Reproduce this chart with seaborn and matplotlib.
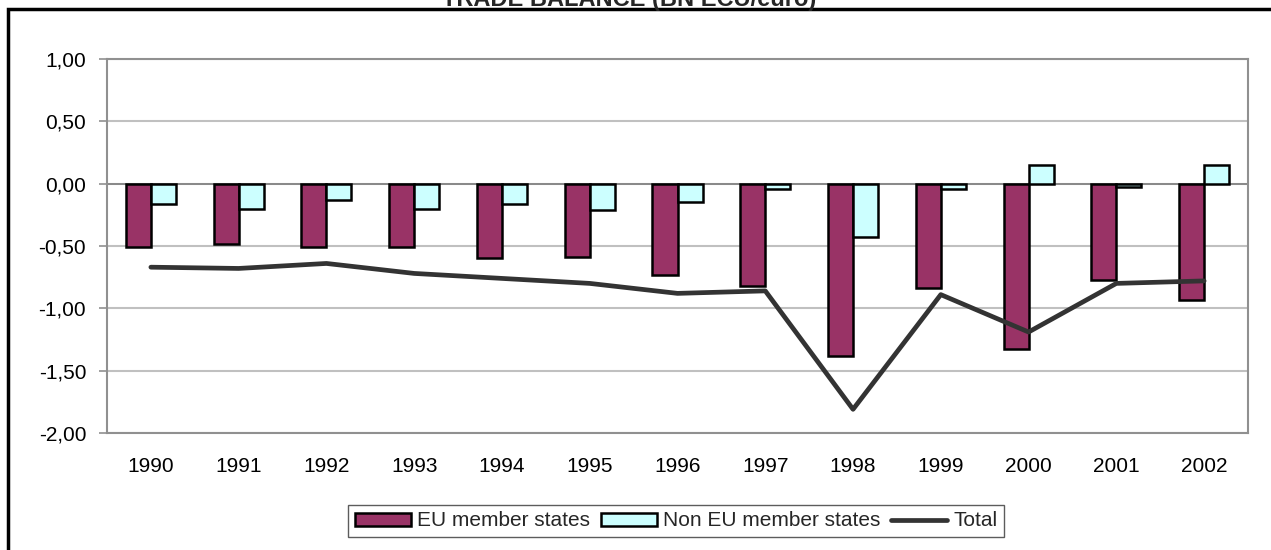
import seaborn as sns
import matplotlib.pyplot as plt
import matplotlib.patches as mpatches
from matplotlib.lines import Line2D
from matplotlib.ticker import FuncFormatter
import numpy as np
import pandas as pd

# values (BN ECU/euro)
years = ["1990", "1991", "1992", "1993", "1994", "1995", "1996",
         "1997", "1998", "1999", "2000", "2001", "2002"]
eu_members = [-0.51, -0.48, -0.51, -0.51, -0.60, -0.59, -0.73,
              -0.82, -1.38, -0.84, -1.33, -0.77, -0.93]
non_eu_members = [-0.16, -0.20, -0.13, -0.20, -0.16, -0.21, -0.15,
                  -0.04, -0.43, -0.04, 0.15, -0.03, 0.15]
total = [-0.67, -0.68, -0.64, -0.72, -0.76, -0.80, -0.88,
         -0.86, -1.81, -0.89, -1.19, -0.80, -0.78]
series_names = ["EU member states", "Non EU member states", "Total"]

df = pd.DataFrame({
    "year": years * 2,
    "value": eu_members + non_eu_members,
    "series": [series_names[0]] * len(years) + [series_names[1]] * len(years),
})
df_total = pd.DataFrame({"pos": np.arange(len(years)), "value": total})

sns.set_theme(style="white")
plt.rcParams["font.family"] = ["Liberation Sans", "DejaVu Sans"]

fig = plt.figure(figsize=(12.71, 5.5), dpi=100)
ax = fig.add_axes([107 / 1271, 1 - 433 / 550, (1248 - 107) / 1271, (433 - 59) / 550])

colors = {series_names[0]: "#993366", series_names[1]: "#CCFFFF"}
sns.barplot(data=df, x="year", y="value", hue="series", palette=colors,
            saturation=1, width=0.57, gap=0, edgecolor="black", linewidth=1.8,
            legend=False, ax=ax, zorder=3)
sns.lineplot(data=df_total, x="pos", y="value", color="#333333",
             linewidth=3.4, ax=ax, zorder=4)

# axes styling
ax.set_ylim(-2, 1)
ax.set_xlim(-0.5, len(years) - 0.5)
ax.set_yticks(np.arange(-2, 1.01, 0.5))
ax.yaxis.set_major_formatter(FuncFormatter(lambda v, p: f"{v:.2f}".replace(".", ",")))
ax.grid(axis="y", color="#c0c0c0", linewidth=1.5, zorder=0)
ax.set_axisbelow(True)
ax.axhline(0, color="#808080", linewidth=1.2, zorder=2)
for s in ax.spines.values():
    s.set_color("#909090")
    s.set_linewidth(1.5)
ax.tick_params(axis="y", left=True, length=6, width=1.2, color="#909090",
               labelsize=15, pad=9, labelcolor="black")
ax.tick_params(axis="x", bottom=False, labelsize=15, pad=11, labelcolor="black")
ax.set_xlabel("")
ax.set_ylabel("")

# legend
handles = [
    mpatches.Patch(facecolor="#993366", edgecolor="black", linewidth=1.8),
    mpatches.Patch(facecolor="#CCFFFF", edgecolor="black", linewidth=1.8),
    Line2D([0], [0], color="#333333", linewidth=3.4),
]
leg = fig.legend(handles, series_names, loc="center", bbox_to_anchor=(676 / 1271, 1 - 521 / 550),
                 ncol=3, fontsize=15, frameon=True, fancybox=False, shadow=False,
                 handlelength=2.7, handleheight=0.6, handletextpad=0.3,
                 columnspacing=0.5, borderpad=0.3, borderaxespad=0)
leg.get_frame().set_edgecolor("#333333")
leg.get_frame().set_linewidth(1.0)

# outer frame and clipped title
fig.patches.append(mpatches.Rectangle((8 / 1271, -0.1), 1.2, 1.1 - 9 / 550,
                                      transform=fig.transFigure, fill=False,
                                      edgecolor="black", linewidth=2.5))
fig.text(0.495, 1 - 6 / 550, "TRADE BALANCE (BN ECU/euro)", ha="center",
         va="baseline", fontsize=17, fontweight="bold")

fig.savefig("out.png", dpi=100)
